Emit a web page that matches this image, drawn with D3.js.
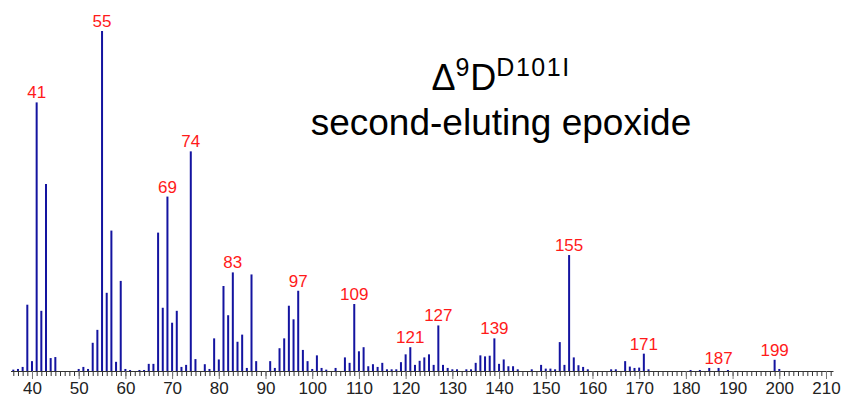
<!DOCTYPE html>
<html>
<head>
<meta charset="utf-8">
<script src="https://cdn.jsdelivr.net/npm/d3@7"></script>
<style>
  html, body { margin: 0; padding: 0; background: #fff; }
  svg { display: block; font-family: Arial, "Liberation Sans", sans-serif; }
</style>
</head>
<body>
<svg id="spectrum"></svg>
<script>
/* m/z values and relative intensities (% of base peak 55) */
var MZ = [36, 37, 38, 39, 40, 41, 42, 43, 44, 45,
    50, 51, 52, 53, 54, 55, 56, 57, 58, 59, 60, 61, 63, 64, 65, 66, 67, 68, 69, 70,
    71, 72, 73, 74, 75, 77, 78, 79, 80, 81, 82, 83, 84, 85, 86, 87, 88,
    91, 92, 93, 94, 95, 96, 97, 98, 99, 100, 101, 102, 103, 105, 107, 108, 109, 110,
    111, 112, 113, 114, 115, 116, 117, 118, 119, 120, 121, 122, 123, 124, 125, 126, 127, 128, 129, 130,
    131, 133, 134, 135, 136, 137, 138, 139, 140, 141, 142, 143, 144, 147, 149, 150,
    151, 152, 153, 154, 155, 156, 157, 158, 159, 164, 165, 167, 168, 169, 170,
    171, 172, 181, 183, 185, 187, 189, 199, 200];

var INTENSITY = [0.4, 0.6, 1.2, 19.5, 2.9, 79, 17.7, 55, 3.8, 4.1,
    0.6, 1.2, 0.6, 8.3, 12.1, 100, 23, 41.3, 2.7, 26.5, 0.6, 0.3, 0.3, 0.3, 2.1, 2.1, 40.7, 18.6, 51.3, 14.2,
    17.7, 1.2, 1.8, 64.6, 3.5, 2, 0.6, 9.6, 3.4, 25, 16.4, 29, 8.6, 10.7, 0.9, 28.4, 2.9,
    2.9, 0.9, 6.7, 9.6, 19.2, 15.2, 23.6, 6.2, 2.9, 0.6, 4.6, 0.9, 0.4, 0.9, 4, 2.4, 19.7, 5.8,
    7, 1.4, 2, 1.2, 2.4, 0.5, 0.5, 0.5, 2.6, 4.9, 7, 1.8, 3, 4, 4.9, 1.8, 13.4, 1.8, 0.9, 0.5,
    0.5, 0.5, 0.5, 2.4, 4.6, 4.3, 4.5, 9.6, 2.1, 3.4, 1.4, 1.4, 0.5, 0.5, 1.8, 0.7,
    0.7, 0.5, 8.5, 1.8, 34.1, 4, 1.7, 1.2, 0.5, 0.5, 0.5, 2.9, 1.3, 0.9, 1,
    5.1, 0.5, 0.3, 0.3, 0.9, 0.9, 0.3, 3.3, 0.6];

var LABELED = [41, 55, 69, 74, 83, 97, 109, 121, 127, 139, 155, 171, 187, 199];
var MAJOR_TICKS = [40, 50, 60, 70, 80, 90, 100, 110, 120, 130, 140, 150, 160, 170, 180, 190, 200, 210];
var MINOR_TICKS = d3.range(36, 212);
var TITLE_LINE2 = "second-eluting epoxide";

var canvas_w = 843, canvas_h = 398;
var base_y = 371;

var svg = d3.select("#spectrum").attr("width", canvas_w).attr("height", canvas_h);

var x = d3.scaleLinear().domain([35.4, 211.5]).range([10.5, 833]);
var y = d3.scaleLinear().domain([0, 100]).range([base_y, 31]);

var peaks = MZ.map(function(m, i) { return {mz: m, v: INTENSITY[i]}; });

function draw_axis() {
    var minor = svg.append("g").attr("transform", "translate(0," + base_y + ")")
        .call(d3.axisBottom(x).tickValues(MINOR_TICKS).tickSize(5).tickSizeOuter(0).tickFormat(""));
    minor.selectAll(".tick line").attr("stroke", "#333");
    minor.select(".domain").attr("stroke", "#333");

    var major = svg.append("g").attr("transform", "translate(0," + base_y + ")")
        .call(d3.axisBottom(x).tickValues(MAJOR_TICKS).tickSize(8).tickSizeOuter(0).tickPadding(3));
    major.select(".domain").remove();
    major.selectAll(".tick line").attr("stroke", "#777");
    major.selectAll(".tick text").attr("fill", "#222")
        .style("font-size", "17px").style("font-family", "Arial, 'Liberation Sans', sans-serif");
}

function draw_bars() {
    svg.append("g").selectAll("rect").data(peaks).enter().append("rect")
        .attr("x", function(d) { return x(d.mz) - 1; })
        .attr("y", function(d) { return y(d.v); })
        .attr("width", 2)
        .attr("height", function(d) { return base_y - y(d.v); })
        .attr("fill", "#1414a0");

    var lab = peaks.filter(function(d) { return LABELED.indexOf(d.mz) >= 0; });
    svg.append("g").selectAll("text").data(lab).enter().append("text")
        .attr("x", function(d) { return x(d.mz); })
        .attr("y", function(d) { return y(d.v) - 4; })
        .attr("text-anchor", "middle")
        .attr("fill", "#ff1a1a")
        .style("font-size", "17px")
        .text(function(d) { return d.mz; });
}

function draw_title() {
    var t1 = svg.append("text").attr("x", 501).attr("y", 90)
        .attr("text-anchor", "middle").attr("fill", "#000").style("font-size", "36px");
    t1.append("tspan").text("\u0394");
    t1.append("tspan").attr("dy", -14).style("font-size", "25px").style("letter-spacing", "1px").text("9");
    t1.append("tspan").attr("dy", 14).text("D");
    t1.append("tspan").attr("dy", -14).style("font-size", "25px").style("letter-spacing", "1.5px").text("D101I");

    svg.append("text").attr("x", 501).attr("y", 135)
        .attr("text-anchor", "middle").attr("fill", "#000").style("font-size", "37px")
        .text(TITLE_LINE2);
}

draw_axis();
draw_bars();
draw_title();
</script>
</body>
</html>
